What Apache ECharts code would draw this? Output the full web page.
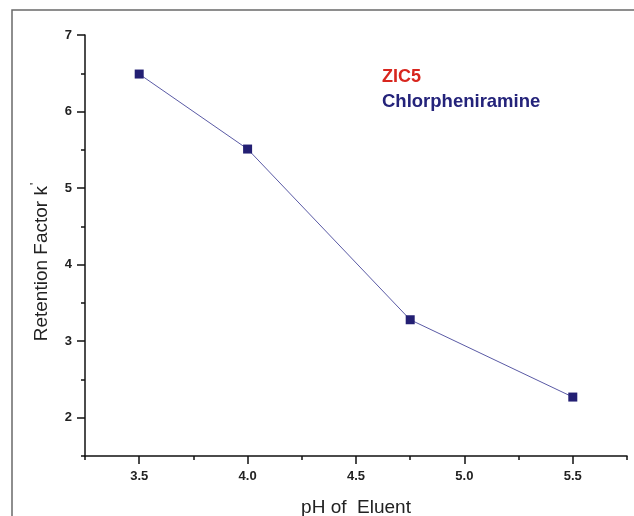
<!DOCTYPE html>
<html>
<head>
<meta charset="utf-8">
<script src="https://cdn.jsdelivr.net/npm/echarts@6/dist/echarts.min.js"></script>
<style>
  html, body { margin: 0; padding: 0; background: #fff; }
  #chart { width: 634px; height: 516px; }
</style>
</head>
<body>
<div id="chart"></div>
<script>
// pH of eluent vs retention factor
const phValues = [3.5, 4.0, 4.75, 5.5];
const retention = [6.49, 5.51, 3.28, 2.27];
const xMajorTicks = [3.5, 4.0, 4.5, 5.0, 5.5];
const yMajorTicks = [2, 3, 4, 5, 6, 7];
const legendLines = ["ZIC5", "Chlorpheniramine"];

const chart = echarts.init(document.getElementById("chart"));

const fontFamily = "Liberation Sans, Arial, sans-serif";
const axisFont = {
  fontFamily: fontFamily,
  fontWeight: "bold",
  fontSize: 13,
  color: "#222"
};

const option = {
  animation: false,
  backgroundColor: "#fff",
  grid: {
    left: 85,
    top: 35,
    right: 7,
    bottom: 60,
    containLabel: false,
    outerBoundsMode: "none"
  },
  graphic: [
    {
      type: "polyline",
      shape: { points: [[12, 516], [12, 10], [634, 10]] },
      style: { stroke: "#6a6a6a", lineWidth: 1.5, fill: null }
    },
    {
      type: "text",
      left: 382,
      top: 68,
      style: {
        text: legendLines[0],
        font: "bold 18px " + fontFamily,
        fill: "#d8261e"
      }
    },
    {
      type: "text",
      left: 382,
      top: 92,
      style: {
        text: legendLines[1],
        font: "bold 18.5px " + fontFamily,
        fill: "#24237a"
      }
    },
    {
      // y axis title, rotated
      type: "text",
      x: 42,
      y: 262,
      rotation: Math.PI / 2,
      style: {
        text: "Retention Factor k{s|'}",
        font: "19px " + fontFamily,
        fill: "#222",
        align: "center",
        verticalAlign: "middle",
        rich: {
          s: {
            font: "12px " + fontFamily,
            fill: "#222",
            padding: [0, 0, 12, 1]
          }
        }
      }
    }
  ],
  xAxis: [
    {
      type: "value",
      min: 3.25,
      max: 5.75,
      interval: 0.25,
      axisLine: { lineStyle: { color: "#111", width: 1.5 } },
      axisTick: { inside: false, length: 4, lineStyle: { color: "#111", width: 1.5 } },
      axisLabel: { show: false },
      splitLine: { show: false },
      name: "pH of  Eluent",
      nameLocation: "middle",
      nameGap: 42,
      nameTextStyle: {
        fontFamily: fontFamily,
        fontSize: 19,
        color: "#222"
      }
    },
    {
      type: "value",
      min: 3.25,
      max: 5.75,
      position: "bottom",
      axisLine: { show: false },
      axisTick: {
        show: true,
        length: 8,
        customValues: xMajorTicks,
        lineStyle: { color: "#111", width: 1.5 }
      },
      axisLabel: {
        ...axisFont,
        margin: 14,
        customValues: xMajorTicks,
        formatter: v => v.toFixed(1)
      },
      splitLine: { show: false }
    }
  ],
  yAxis: [
    {
      type: "value",
      min: 1.5,
      max: 7,
      interval: 0.5,
      axisLine: { show: true, lineStyle: { color: "#111", width: 1.5 } },
      axisTick: { show: true, length: 4, lineStyle: { color: "#111", width: 1.5 } },
      axisLabel: { show: false },
      splitLine: { show: false }
    },
    {
      type: "value",
      min: 1.5,
      max: 7,
      position: "left",
      axisLine: { show: false },
      axisTick: {
        show: true,
        length: 8,
        customValues: yMajorTicks,
        lineStyle: { color: "#111", width: 1.5 }
      },
      axisLabel: {
        ...axisFont,
        margin: 13,
        customValues: yMajorTicks
      },
      splitLine: { show: false }
    }
  ],
  series: [
    {
      type: "line",
      xAxisIndex: 0,
      yAxisIndex: 0,
      data: phValues.map((x, i) => [x, retention[i]]),
      symbol: "rect",
      symbolSize: 9,
      itemStyle: { color: "#231f73" },
      lineStyle: { color: "#5a5aa5", width: 1 }
    }
  ]
};

chart.setOption(option);
</script>
</body>
</html>
